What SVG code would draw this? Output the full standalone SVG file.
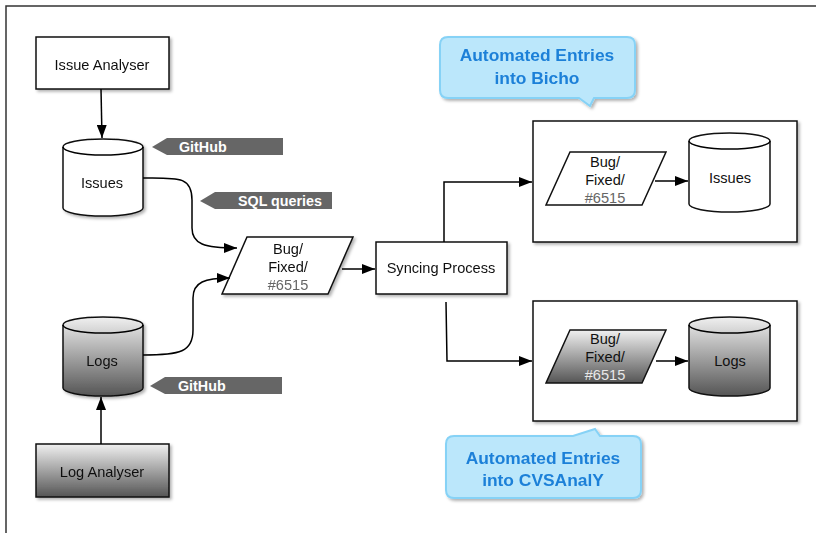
<svg xmlns="http://www.w3.org/2000/svg" width="816" height="533" viewBox="0 0 816 533">
<style>
text{font-family:"Liberation Sans",Arial,sans-serif;font-size:14.6px;fill:#111;text-anchor:middle}
.box{fill:#fff;stroke:#111;stroke-width:1.5}
.gbox{fill:url(#g);stroke:#111;stroke-width:1.5}
.line{fill:none;stroke:#000;stroke-width:1.5}
.tag{fill:#666}
.tagt{fill:#fff;font-weight:bold;text-anchor:start;font-size:14.3px}
.bub{fill:#bbe7fb;stroke:#86d2f6;stroke-width:2}
.bubt{fill:#1d80d8;font-weight:bold;font-size:17.4px}
.num{fill:#666}
.numl{fill:#e8e8e8}
</style>
<defs>
<linearGradient id="g" x1="0" y1="0" x2="0" y2="1">
<stop offset="0" stop-color="#f0f0f0"/>
<stop offset="1" stop-color="#555"/>
</linearGradient>
<filter id="sh" x="-10%" y="-10%" width="130%" height="130%">
<feDropShadow dx="2" dy="2" stdDeviation="1.5" flood-color="#000" flood-opacity="0.3"/>
</filter>
<marker id="arr" markerUnits="userSpaceOnUse" markerWidth="13" markerHeight="10" refX="13" refY="5" orient="auto">
<path d="M0,0 L13,5 L0,10 Z" fill="#000"/>
</marker>
</defs>
<rect width="816" height="533" fill="#fff"/>
<path d="M6,533 V6 H816" fill="none" stroke="#333" stroke-width="1.5"/>

<g id="issue-analyser" filter="url(#sh)">
<rect class="box" x="36" y="37" width="133" height="52"/>
<text x="102" y="70">Issue Analyser</text>
</g>
<g id="issues-db" filter="url(#sh)">
<path class="box" d="M63,147 A40,8 0 0 1 143,147 V208 A40,8 0 0 1 63,208 Z"/>
<path class="line" d="M63,147 A40,8 0 0 0 143,147"/>
<text x="102" y="188">Issues</text>
</g>
<g id="tag-github-1">
<path class="tag" d="M152,147 L167,138 H283 V155 H167 Z"/>
<text class="tagt" x="179" y="152">GitHub</text>
</g>
<g id="tag-sql">
<path class="tag" d="M200,201 L215,192 H332 V209 H215 Z"/>
<text class="tagt" x="238" y="206">SQL queries</text>
</g>
<g id="logs-db" filter="url(#sh)">
<path class="gbox" d="M63,325 A40,8 0 0 1 143,325 V388 A40,8 0 0 1 63,388 Z"/>
<path class="line" d="M63,325 A40,8 0 0 0 143,325"/>
<text x="102" y="366">Logs</text>
</g>
<g id="tag-github-2">
<path class="tag" d="M150,386 L165,377 H282 V394 H165 Z"/>
<text class="tagt" x="178" y="391">GitHub</text>
</g>
<g id="log-analyser" filter="url(#sh)">
<rect class="gbox" x="36" y="444" width="133" height="53"/>
<text x="102" y="477">Log Analyser</text>
</g>
<g id="bug-main" filter="url(#sh)">
<path class="box" d="M247,237 H353 L328,294 H222 Z"/>
<text x="288" y="254">Bug/</text>
<text x="288" y="272">Fixed/</text>
<text class="num" x="288" y="290">#6515</text>
</g>
<g id="syncing" filter="url(#sh)">
<rect class="box" x="376" y="242" width="131" height="52"/>
<text x="441" y="273">Syncing Process</text>
</g>
<g id="bicho-container" filter="url(#sh)">
<rect class="box" x="533" y="121" width="264" height="121"/>
</g>
<g id="bug-bicho">
<path class="box" d="M570,152 H666 L642,205 H546 Z"/>
<text x="605" y="167">Bug/</text>
<text x="605" y="185">Fixed/</text>
<text class="num" x="605" y="203">#6515</text>
</g>
<g id="issues-bicho">
<path class="box" d="M689,141 A40.5,8 0 0 1 770,141 V204 A40.5,8 0 0 1 689,204 Z"/>
<path class="line" d="M689,141 A40.5,8 0 0 0 770,141"/>
<text x="730" y="183">Issues</text>
</g>
<g id="cvs-container" filter="url(#sh)">
<rect class="box" x="533" y="301" width="264" height="120"/>
</g>
<g id="bug-cvs">
<path class="gbox" d="M570,330 H666 L642,383 H546 Z"/>
<text x="605" y="344">Bug/</text>
<text x="605" y="362">Fixed/</text>
<text class="numl" x="605" y="380">#6515</text>
</g>
<g id="logs-cvs">
<path class="gbox" d="M689,325 A40.5,8 0 0 1 770,325 V388 A40.5,8 0 0 1 689,388 Z"/>
<path class="line" d="M689,325 A40.5,8 0 0 0 770,325"/>
<text x="730" y="366">Logs</text>
</g>
<g id="bubble-bicho" filter="url(#sh)">
<path class="bub" d="M448,37 H627 Q635,37 635,45 V90 Q635,98 627,98 H594 L590,106 L579,98 H448 Q440,98 440,90 V45 Q440,37 448,37 Z"/>
<text class="bubt" x="537" y="61">Automated Entries</text>
<text class="bubt" x="537" y="84">into Bicho</text>
</g>
<g id="bubble-cvs" filter="url(#sh)">
<path class="bub" d="M454,436 H573 L595,429 L600,436 H633 Q641,436 641,444 V490 Q641,498 633,498 H454 Q446,498 446,490 V444 Q446,436 454,436 Z"/>
<text class="bubt" x="543" y="464">Automated Entries</text>
<text class="bubt" x="543" y="486">into CVSAnalY</text>
</g>

<g id="connectors" class="line">
<path class="line" d="M101,89 L102,138" marker-end="url(#arr)"/>
<path class="line" d="M101,444 V397" marker-end="url(#arr)"/>
<path class="line" d="M143,178 C178,178 192,176 192,200 V228 C192,244 204,248 237,248" marker-end="url(#arr)"/>
<path class="line" d="M143,355 C180,355 193,352 193,330 V298 C193,282 205,278 230,278" marker-end="url(#arr)"/>
<path class="line" d="M342,269 H375" marker-end="url(#arr)"/>
<path class="line" d="M444,242 V182 H532" marker-end="url(#arr)"/>
<path class="line" d="M446,302 L447,361 H532" marker-end="url(#arr)"/>
<path class="line" d="M655,181 H688" marker-end="url(#arr)"/>
<path class="line" d="M656,361 H688" marker-end="url(#arr)"/>
</g>
</svg>
